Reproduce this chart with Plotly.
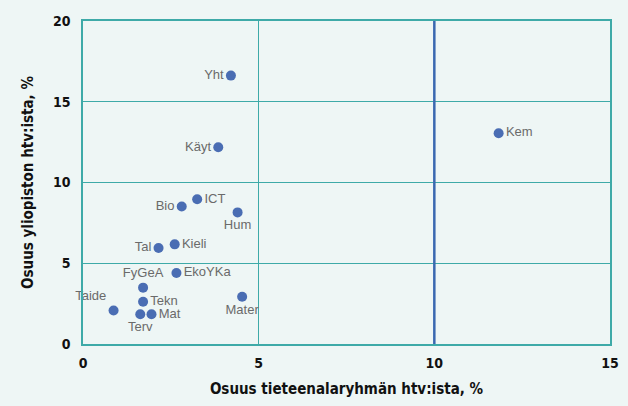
import plotly.graph_objects as go

labels = ["Yht", "Käyt", "Kem", "ICT", "Bio", "Hum", "Tal", "Kieli", "EkoYKa",
          "FyGeA", "Tekn", "Taide", "Terv", "Mat", "Mater"]
x_vals = [4.21, 3.85, 11.83, 3.25, 2.81, 4.40, 2.15, 2.61, 2.66,
          1.71, 1.71, 0.87, 1.63, 1.95, 4.53]
y_vals = [16.62, 12.18, 13.05, 8.96, 8.51, 8.15, 5.94, 6.17, 4.40,
          3.49, 2.62, 2.07, 1.84, 1.84, 2.93]
positions = ["middle left", "middle left", "middle right", "middle right", "middle left",
             "bottom center", "middle left", "middle right", "middle right",
             "top center", "middle right", "top left", "bottom center", "middle right",
             "bottom center"]

x_ticks = [0, 5, 10, 15]
y_ticks = [0, 5, 10, 15, 20]

BG = "#eef6f5"
GRID = "#3eaaa8"
DOT = "#4a6db3"
BOLD = dict(family="DejaVu Sans Condensed, Liberation Sans Narrow, Arial", size=14,
            color="#111111", weight="bold")

fig = go.Figure()
fig.add_trace(go.Scatter(
    x=x_vals, y=y_vals, text=labels, mode="markers+text",
    textposition=positions,
    marker=dict(color=DOT, size=10),
    textfont=dict(family="Liberation Sans, Arial", size=13, color="#6a6a6a"),
    cliponaxis=False, showlegend=False,
))

fig.add_vline(x=10, line_color="#3a68b0", line_width=2.5)

fig.update_xaxes(range=[0, 15], tickvals=x_ticks, showgrid=True, gridcolor=GRID, gridwidth=1,
                 showline=True, linecolor=GRID, linewidth=1.5, mirror=True, zeroline=False,
                 tickfont=BOLD, ticks="", ticklabelstandoff=5, automargin=False,
                 title=dict(text="Osuus tieteenalaryhmän htv:ista, %",
                            font=dict(BOLD, size=15), standoff=14))
fig.update_yaxes(range=[0, 20], tickvals=y_ticks, showgrid=True, gridcolor=GRID, gridwidth=1,
                 showline=True, linecolor=GRID, linewidth=1.5, mirror=True, zeroline=False,
                 tickfont=BOLD, ticks="", ticklabelstandoff=8, automargin=False,
                 title=dict(text="Osuus yliopiston htv:ista, %",
                            font=dict(BOLD, size=15), standoff=16))
fig.update_layout(width=628, height=406, paper_bgcolor=BG, plot_bgcolor=BG,
                  margin=dict(l=83, r=18, t=21, b=62))
fig.write_html("out.html", config={"displayModeBar": False},
               post_script="document.body.style.margin='0';")
